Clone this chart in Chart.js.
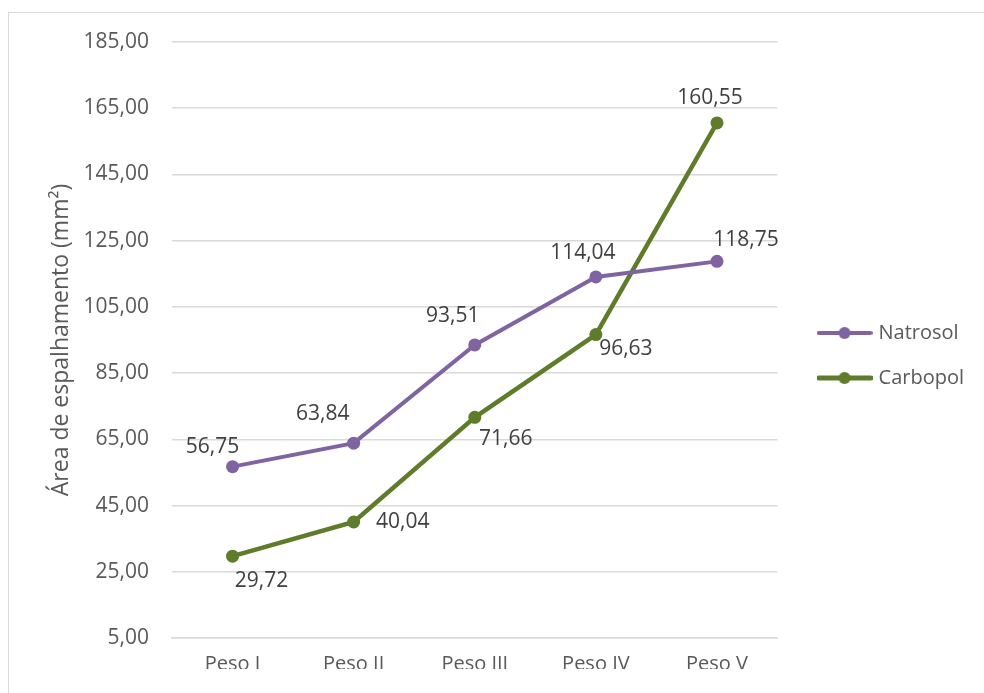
<!DOCTYPE html>
<html>
<head>
<meta charset="utf-8">
<script src="https://cdn.jsdelivr.net/npm/chart.js@4/dist/chart.umd.min.js"></script>
<style>
  html,body{margin:0;padding:0;background:#fff;}
  #wrap{position:absolute;left:0;top:0;width:984px;height:693px;}
  #frame{position:absolute;left:8px;top:12px;width:1000px;height:700px;border:1px solid #d9d9d9;box-sizing:border-box;}
  canvas{position:absolute;left:0;top:0;}
</style>
</head>
<body>
<div id="wrap">
  <div id="frame"></div>
  <canvas id="c" width="984" height="693"></canvas>
</div>
<script>
const categories = ['Peso I', 'Peso II', 'Peso III', 'Peso IV', 'Peso V'];
const natrosol = [56.75, 63.84, 93.51, 114.04, 118.75];
const carbopol = [29.72, 40.04, 71.66, 96.63, 160.55];
const yMin = 5, yMax = 185, yStep = 20;
const axisTitle = 'Área de espalhamento (mm²)';

const FONT = "'Open Sans', sans-serif";
const PURPLE = '#8064A2';
const GREEN = '#5F7C2A';

function fmt(v){ return v.toFixed(2).replace('.', ','); }

function legendIcon(color, lw){
  const cv = document.createElement('canvas');
  cv.width = 56; cv.height = 16;
  const x = cv.getContext('2d');
  x.strokeStyle = color; x.lineWidth = lw; x.lineCap = 'round';
  x.beginPath(); x.moveTo(2, 8); x.lineTo(54, 8); x.stroke();
  x.fillStyle = color;
  x.beginPath(); x.arc(28, 8, 6, 0, Math.PI*2); x.fill();
  return cv;
}

// label offsets (dx, dy) relative to each point, per dataset
const labelOffsets = [
  [[-20,-20],[-31,-29],[-22,-29],[-13,-24],[29,-21]],
  [[29,25],[49,0],[31,22],[30,14],[-7,-25]]
];

const dataLabelPlugin = {
  id: 'dataLabels',
  afterDatasetsDraw(chart){
    const ctx = chart.ctx;
    ctx.save();
    ctx.font = '21px ' + FONT;
    ctx.fillStyle = '#404040';
    ctx.textAlign = 'center';
    ctx.textBaseline = 'middle';
    chart.data.datasets.forEach((ds, di) => {
      const meta = chart.getDatasetMeta(di);
      meta.data.forEach((pt, i) => {
        const off = labelOffsets[di][i];
        ctx.fillText(fmt(ds.data[i]), pt.x + off[0], pt.y + off[1]);
      });
    });
    ctx.restore();
  }
};

// nudge the legend block to the right inside its column
const legendShiftPlugin = {
  id: 'legendShift',
  afterLayout(chart){
    const lg = chart.legend;
    if (lg) { lg.left += 18; lg.right += 18; }
  }
};

const icons = [legendIcon(PURPLE, 4), legendIcon(GREEN, 5)];

new Chart(document.getElementById('c'), {
  type: 'line',
  data: {
    labels: categories,
    datasets: [
      { label: 'Natrosol', data: natrosol, borderColor: PURPLE, backgroundColor: PURPLE,
        borderWidth: 4, pointRadius: 6.5, pointHoverRadius: 6.5, pointBackgroundColor: PURPLE, pointBorderWidth: 0 },
      { label: 'Carbopol', data: carbopol, borderColor: GREEN, backgroundColor: GREEN,
        borderWidth: 4.5, pointRadius: 6.5, pointHoverRadius: 6.5, pointBackgroundColor: GREEN, pointBorderWidth: 0 }
    ]
  },
  options: {
    responsive: false,
    animation: false,
    layout: { padding: { top: 42, right: 28, bottom: 24, left: 48 } },
    plugins: {
      tooltip: { enabled: false },
      legend: {
        position: 'right',
        align: 'center',
        labels: {
          usePointStyle: true,
          pointStyleWidth: 48,
          boxHeight: 16,
          padding: 25,
          color: '#595959',
          font: { family: FONT, size: 20 },
          generateLabels(chart){
            return chart.data.datasets.map((ds, i) => ({
              text: ds.label, pointStyle: icons[i], fillStyle: ds.borderColor,
              strokeStyle: ds.borderColor, lineWidth: 0, hidden: false, datasetIndex: i,
              fontColor: '#595959'
            }));
          }
        }
      }
    },
    scales: {
      x: {
        offset: true,
        grid: { display: false, drawTicks: false },
        border: { display: true, color: '#d9d9d9', width: 1.5 },
        ticks: { color: '#595959', font: { family: FONT, size: 20 }, padding: 14 },
        afterFit(s){ s.height = 31; }
      },
      y: {
        min: yMin, max: yMax,
        grid: { color: '#d9d9d9', lineWidth: 1.5, drawTicks: false },
        border: { display: false },
        ticks: { stepSize: yStep, color: '#595959', font: { family: FONT, size: 21 }, padding: 23,
          callback: v => fmt(v) },
        title: { display: true, text: axisTitle, color: '#595959', font: { family: FONT, size: 23 }, padding: 0 },
        afterFit(s){ s.width = 124; }
      }
    }
  },
  plugins: [dataLabelPlugin, legendShiftPlugin]
});
</script>
</body>
</html>
